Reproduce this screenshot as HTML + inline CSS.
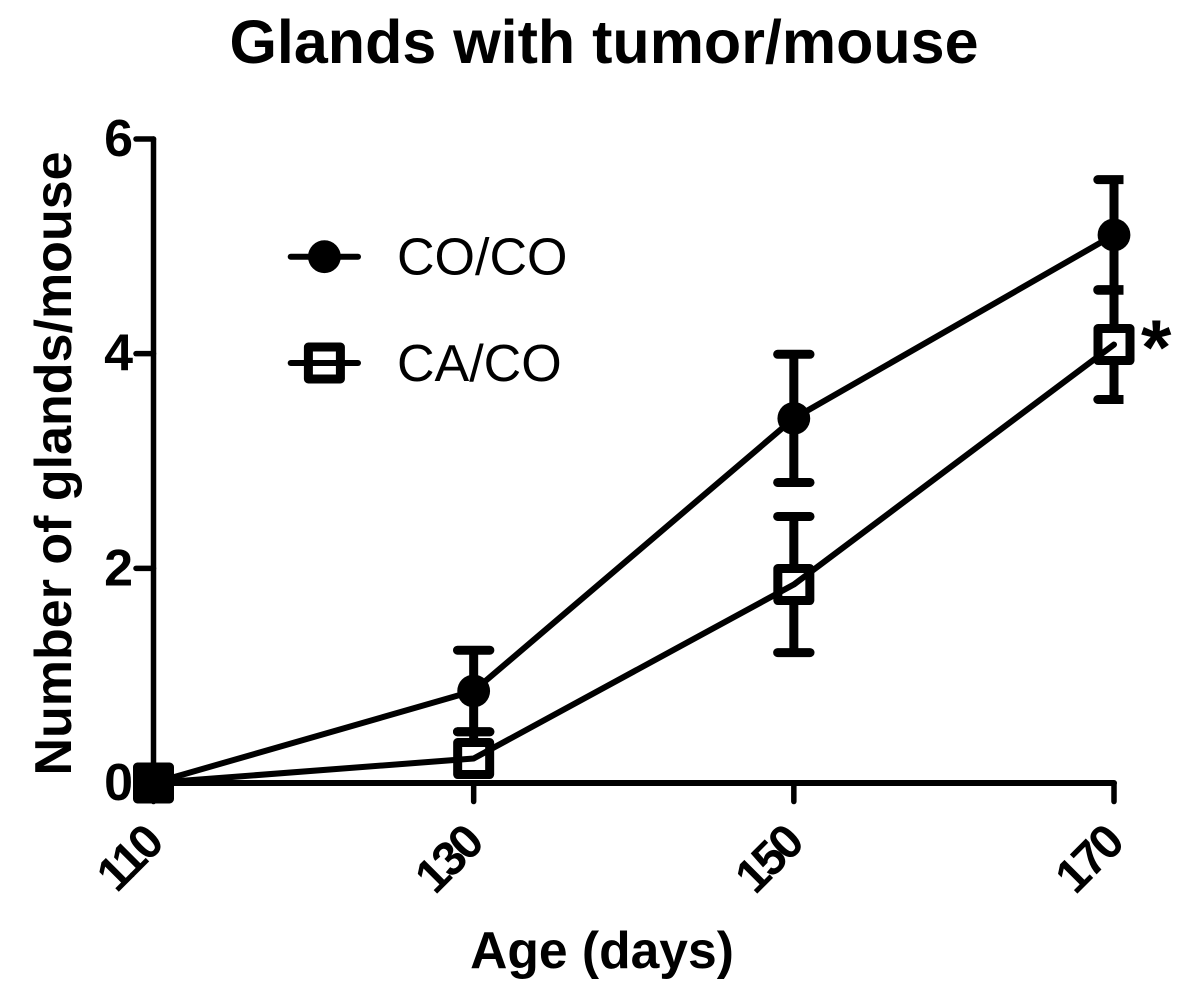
<!DOCTYPE html>
<html>
<head>
<meta charset="utf-8">
<style>
html,body{margin:0;padding:0;background:#fff;width:1200px;height:994px;overflow:hidden}
svg{display:block}
text{font-family:"Liberation Sans",Arial,sans-serif;fill:#000}
</style>
</head>
<body>
<svg id="chart" width="1200" height="994" viewBox="0 0 1200 994">
<defs><clipPath id="bar-clip"><rect id="bar-clip-rect" x="0" y="0" width="1123.5" height="994"></rect></clipPath></defs>
<text x="604" y="63" font-size="61" font-weight="bold" text-anchor="middle">Glands with tumor/mouse</text>
<text x="71" y="463.5" font-size="52" font-weight="bold" text-anchor="middle" transform="rotate(-90 71 463.5)">Number of glands/mouse</text>
<text x="602" y="968" font-size="51.6" font-weight="bold" text-anchor="middle">Age (days)</text>
<g id="axes"></g>
<g id="series"></g>
<g id="legend"></g>
<text x="1141" y="374" font-size="78" font-weight="bold">*</text>
</svg>
<script>
const categories = [110, 130, 150, 170];
const yTicks = [0, 2, 4, 6];
const seriesNames = ["CO/CO", "CA/CO"];
const coValues = [0, 0.857, 3.397, 5.106];
const coErrors = [0, 0.38, 0.597, 0.515];
const caValues = [0, 0.228, 1.849, 4.085];
const caErrors = [0, 0.25, 0.634, 0.512];

const NS = "http://www.w3.org/2000/svg";
const xScale = v => 153.5 + (v - 110) * (1114 - 153.5) / 60;
const yScale = v => 783 + v * (139 - 783) / 6;
function mk(tag, attrs, parent) {
  const el = document.createElementNS(NS, tag);
  for (const k in attrs) el.setAttribute(k, attrs[k]);
  parent.appendChild(el);
  return el;
}
const axes = document.getElementById("axes");
const seriesG = document.getElementById("series");
const legend = document.getElementById("legend");
document.getElementById("bar-clip-rect").setAttribute("width", xScale(170) + 9.5);

const yAxis = mk("line", {x1: xScale(110), x2: xScale(110), y1: yScale(6), y2: yScale(0), stroke: "#000", "stroke-width": 5.5, "stroke-linecap": "round"}, axes);


const xAxis = mk("line", {x1: xScale(110), x2: xScale(170), y1: yScale(0), y2: yScale(0), stroke: "#000", "stroke-width": 6, "stroke-linecap": "round"}, axes);



yTicks.forEach(t => {
  const tick = mk("line", {x1: xScale(110) - 17.5, x2: xScale(110), y1: yScale(t), y2: yScale(t), stroke: "#000", "stroke-width": 5.5, "stroke-linecap": "round"}, axes);
  
  
  const label = mk("text", {x: 133, y: yScale(t) + 17, "font-size": 52, "font-weight": "bold", "text-anchor": "end"}, axes);
  
  
  label.textContent = t;
});
categories.forEach(c => {
  const x = xScale(c), y = yScale(0);
  const tick = mk("line", {x1: x, x2: x, y1: y, y2: y + 18.5, stroke: "#000", "stroke-width": 5.5, "stroke-linecap": "round"}, axes);
  
  
  const lx = x + 10.5, ly = y + 63.5;
  const label = mk("text", {x: lx, y: ly, "font-size": 48, "font-weight": "bold", "letter-spacing": -3.5, "text-anchor": "end", transform: `rotate(-45 ${lx} ${ly})`}, axes);
  
  
  label.textContent = c;
});

function circle(cx, cy, parent) {
  const m = mk("circle", {cx, cy, r: 16.4, fill: "#000"}, parent);
  
  
}
function square(cx, cy, parent, solid) {
  const m = mk("rect", {x: cx - 16, y: cy - 16, width: 32, height: 32, fill: solid ? "#000" : "#fff", stroke: "#000", "stroke-width": 9, "stroke-linejoin": "round"}, parent);
  
  
}
function drawBars(values, errors, name) {
  categories.forEach((c, i) => {
    if (errors[i] > 0) {
      const x = xScale(c), hi = yScale(values[i] + errors[i]);
      const lowV = values[i] - errors[i];
      let d = `M${x} ${yScale(values[i])}V${hi}M${x - 16.2} ${hi}H${x + 16.2}`;
      if (lowV > 0) {
        const lo = yScale(lowV);
        d += `M${x} ${yScale(values[i])}V${lo}M${x - 16.2} ${lo}H${x + 16.2}`;
      }
      const e = mk("path", {d, fill: "none", stroke: "#000", "stroke-width": 9, "stroke-linecap": "round", "clip-path": "url(#bar-clip)"}, seriesG);
      
      
    }
  });
}
function drawLine(values, name) {
  const pts = categories.map((c, i) => xScale(c) + "," + yScale(values[i])).join(" ");
  const line = mk("polyline", {points: pts, fill: "none", stroke: "#000", "stroke-width": 6, "stroke-linecap": "round", "stroke-linejoin": "round"}, seriesG);
  
  
}
drawBars(coValues, coErrors, "co-co");
drawLine(coValues, "co-co");
categories.forEach((c, i) => circle(xScale(c), yScale(coValues[i]), seriesG));
drawBars(caValues, caErrors, "ca-co");
categories.forEach((c, i) => square(xScale(c), yScale(caValues[i]), seriesG, caErrors[i] === 0));
drawLine(caValues, "ca-co");

[[256.7, circle], [363, square]].forEach((row, i) => {
  const y = row[0];
  if (i === 1) row[1](324.4, y, legend, false);
  const l = mk("line", {x1: 290.7, x2: 358, y1: y, y2: y, stroke: "#000", "stroke-width": 6, "stroke-linecap": "round"}, legend);
  
  
  if (i === 0) row[1](324.4, y, legend, false);
  const t = mk("text", {x: 397, y: y + 18, "font-size": 52, style: "font-kerning:none"}, legend);
  
  
  t.textContent = seriesNames[i];
});
</script>
</body>
</html>
